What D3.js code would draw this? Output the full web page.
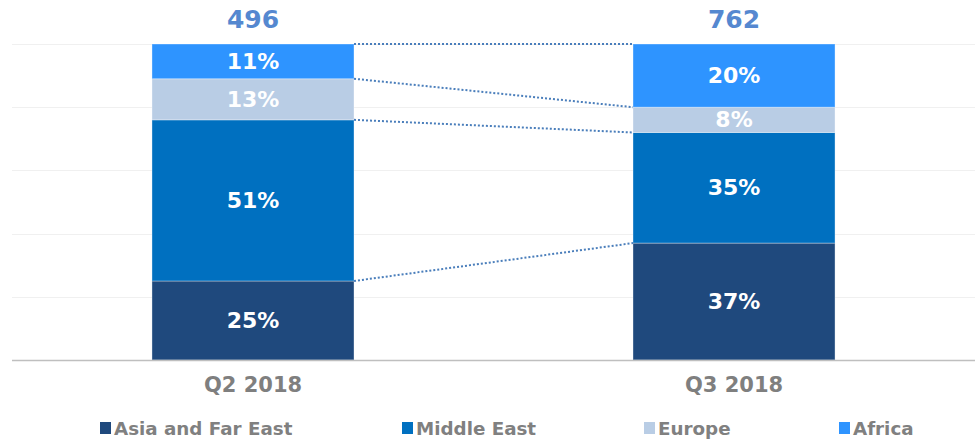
<!DOCTYPE html>
<html>
<head>
<meta charset="utf-8">
<script src="https://cdn.jsdelivr.net/npm/d3@7"></script>
<style>
  html, body { margin: 0; padding: 0; background: #fff; }
  svg { display: block; }
</style>
</head>
<body>
<svg id="chart" width="977" height="440"></svg>
<script>
// Regional split of volumes per quarter (percent of total)
const quarters = ["Q2 2018", "Q3 2018"];
const totals = [496, 762];
const regions = ["Asia and Far East", "Middle East", "Europe", "Africa"];
const asiaFarEast = [25, 37];
const middleEast = [51, 35];
const europe = [13, 8];
const africa = [11, 20];
const gridTicks = [0, 20, 40, 60, 80, 100];

const colors = ["#1f497d", "#0070c0", "#b9cde5", "#2e94ff"];
const seriesValues = [asiaFarEast, middleEast, europe, africa];

const rows = quarters.map((q, i) => {
  const r = { quarter: q };
  regions.forEach((name, k) => { r[name] = seriesValues[k][i]; });
  return r;
});
const stacked = d3.stack().keys(regions)(rows);

const svg = d3.select("#chart");

const x = d3.scaleBand()
  .domain(quarters)
  .range([12, 975])
  .paddingInner(0.58)
  .paddingOuter(0.291);

const y = d3.scaleLinear().domain([0, 100]).range([360, 44]);

// gridlines
svg.append("g").selectAll("line").data(gridTicks.slice(1)).join("line")
  .attr("x1", 12).attr("x2", 975)
  .attr("y1", d => Math.round(y(d)) + 0.5).attr("y2", d => Math.round(y(d)) + 0.5)
  .attr("stroke", "#f0f0f0").attr("stroke-width", 1);

// bars
const layer = svg.append("g").selectAll("g").data(stacked).join("g")
  .attr("fill", (d, i) => colors[i]);
layer.selectAll("rect").data(d => d).join("rect")
  .attr("x", d => x(d.data.quarter))
  .attr("width", x.bandwidth())
  .attr("y", d => y(d[1]))
  .attr("height", d => y(d[0]) - y(d[1]))
  .attr("stroke", "#ffffff")
  .attr("stroke-opacity", 0.35)
  .attr("stroke-width", 1);

// axis baseline
svg.append("line")
  .attr("x1", 12).attr("x2", 975)
  .attr("y1", 360.5).attr("y2", 360.5)
  .attr("stroke", "#bfbfbf").attr("stroke-width", 1.5);

// dotted connectors between matching segment boundaries
const x0 = x(quarters[0]) + x.bandwidth();
const x1 = x(quarters[1]);
const boundaries = stacked.map(s => [s[0][1], s[1][1]]);
svg.append("g").selectAll("line").data(boundaries).join("line")
  .attr("x1", x0).attr("x2", x1)
  .attr("y1", d => y(d[0])).attr("y2", d => y(d[1]))
  .attr("stroke", "#4a7ebb")
  .attr("stroke-width", 2)
  .attr("stroke-dasharray", "2,2");

// segment labels
const font = "'DejaVu Sans', Verdana, sans-serif";
layer.selectAll("text").data(d => d).join("text")
  .attr("x", d => x(d.data.quarter) + x.bandwidth() / 2)
  .attr("y", d => (y(d[0]) + y(d[1])) / 2)
  .attr("dy", "0.34em")
  .attr("text-anchor", "middle")
  .attr("fill", "#ffffff")
  .attr("font-family", font)
  .attr("font-weight", "bold")
  .attr("font-size", 22)
  .text(d => (d[1] - d[0]) + "%");

// totals above bars
svg.append("g").selectAll("text").data(quarters).join("text")
  .attr("x", d => x(d) + x.bandwidth() / 2)
  .attr("y", 28)
  .attr("text-anchor", "middle")
  .attr("fill", "#5588d0")
  .attr("font-family", font)
  .attr("font-weight", "bold")
  .attr("font-size", 25)
  .text((d, i) => totals[i]);

// category axis labels
const xAxis = d3.axisBottom(x).tickSize(0).tickPadding(0);
const gx = svg.append("g").attr("transform", "translate(0,392)").call(xAxis);
gx.select(".domain").remove();
gx.selectAll(".tick text")
  .attr("dy", 0)
  .attr("y", 0)
  .attr("fill", "#7f7f7f")
  .attr("font-family", font)
  .attr("font-weight", "bold")
  .attr("font-size", 21);

// legend
const legendX = [100, 402, 644, 839];
const lg = svg.append("g").selectAll("g").data(regions).join("g")
  .attr("transform", (d, i) => `translate(${legendX[i]},422)`);
lg.append("rect").attr("width", 11).attr("height", 12).attr("y", 0)
  .attr("fill", (d, i) => colors[i]);
lg.append("text")
  .attr("x", 14).attr("y", 13)
  .attr("fill", "#808080")
  .attr("font-family", font)
  .attr("font-weight", "bold")
  .attr("font-size", 18.3)
  .text(d => d);
</script>
</body>
</html>
